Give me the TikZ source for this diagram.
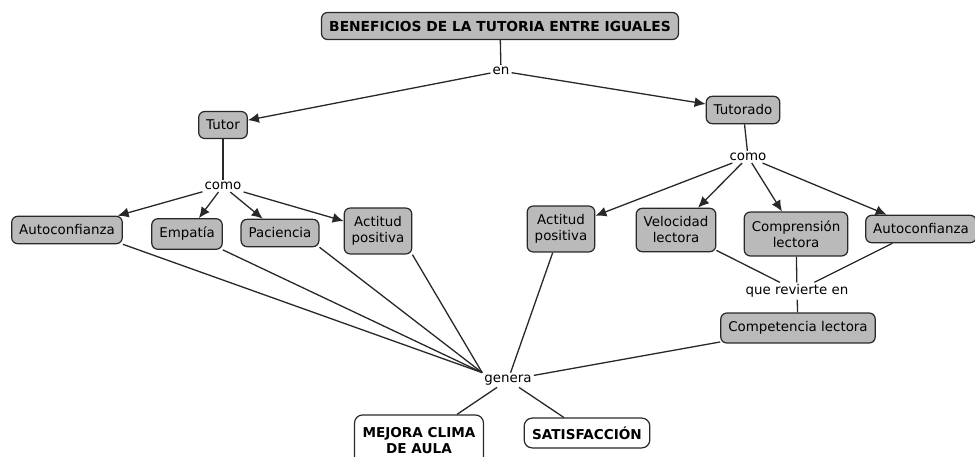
\documentclass[tikz,border=0pt]{standalone}
\usepackage{fontspec}
\setmainfont{DejaVu Sans}
\usetikzlibrary{arrows.meta}
\definecolor{boxfill}{RGB}{186,186,186}
\definecolor{edge}{RGB}{40,40,40}
\begin{document}
\begin{tikzpicture}[x=1pt,y=-1pt,
  concept/.style={draw=edge,line width=1.2pt,fill=boxfill,rounded corners=6pt,
    font=\fontsize{13.4}{16}\selectfont,align=center,inner xsep=7.5pt,inner ysep=8.5pt},
  wbox/.style={draw=edge,line width=1.2pt,fill=white,rounded corners=8pt,
    font=\bfseries\fontsize{13.6}{16}\selectfont,align=center,inner xsep=8pt,inner ysep=8.5pt},
  lbl/.style={font=\fontsize{13.4}{16}\selectfont,inner sep=2pt},
  con/.style={draw=edge,line width=1.3pt},
  arr/.style={con,-{Latex[length=11pt,width=10pt]}}]
\useasboundingbox (0,0) rectangle (975,457);
% nodes
\node[concept,font=\bfseries\fontsize{13.8}{16}\selectfont,minimum width=357pt,minimum height=27pt,inner ysep=4pt] (title) at (500,26) {BENEFICIOS DE LA TUTORIA ENTRE IGUALES};
\node[lbl] (en) at (501,71) {en};
\node[concept] (tutor) at (223,125) {Tutor};
\node[concept] (tutorado) at (743,110) {Tutorado};
\node[lbl] (comoL) at (223,186) {como};
\node[lbl] (comoR) at (748,157) {como};
\node[concept] (autoL) at (67,230) {Autoconfianza};
\node[concept] (empatia) at (187,234) {Empatía};
\node[concept] (paciencia) at (280,233) {Paciencia};
\node[concept] (actL) at (378,231) {Actitud\\positiva};
\node[concept] (actR) at (561,229) {Actitud\\positiva};
\node[concept] (veloc) at (676,230) {Velocidad\\lectora};
\node[concept] (compr) at (796,234) {Comprensión\\lectora};
\node[concept] (autoR) at (921,229) {Autoconfianza};
\node[lbl] (revierte) at (797,291) {que revierte en};
\node[concept] (compet) at (798,328) {Competencia lectora};
\node[lbl] (genera) at (508,380) {genera};
\node[wbox,minimum height=50pt,text depth=0pt] (mejora) at (419,440) {MEJORA CLIMA\\DE AULA};
\node[wbox] (satis) at (587,433) {SATISFACCIÓN};
% connectors
\draw[con] (title) -- (en);
\draw[arr] (en) -- (tutor);
\draw[arr] (en) -- (tutorado);
\draw[con] (tutor) -- (comoL);
\draw[con] (tutorado) -- (comoR);
\draw[arr] (comoL) -- (autoL);
\draw[arr] (comoL) -- (empatia);
\draw[arr] (comoL) -- (paciencia);
\draw[arr] (comoL) -- (actL);
\draw[arr] (comoR) -- (actR);
\draw[arr] (comoR) -- (veloc);
\draw[arr] (comoR) -- (compr);
\draw[arr] (comoR) -- (autoR);
\draw[con] (veloc) -- (revierte);
\draw[con] (compr) -- (revierte);
\draw[con] (autoR) -- (revierte);
\draw[con] (revierte) -- (compet);
\draw[con] (autoL.south east) -- (genera.north west);
\draw[con] (empatia.south east) -- (genera.north west);
\draw[con] (paciencia.south east) -- (genera.north west);
\draw[con] (actL.south east) -- (genera.north west);
\draw[con] (actR) -- (genera);
\draw[con] (compet) -- (genera);
\draw[con] (genera) -- (mejora);
\draw[con] (genera) -- (satis);
\end{tikzpicture}
\end{document}
